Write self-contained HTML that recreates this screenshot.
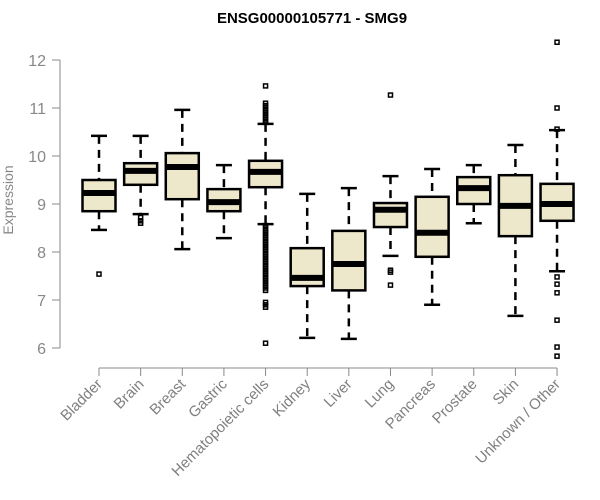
<!DOCTYPE html>
<html><head><meta charset="utf-8"><style>
body{margin:0;background:#fff}
svg{display:block;font-family:"Liberation Sans",Arial,sans-serif}
</style></head><body>
<svg id="chart" width="600" height="500" viewBox="0 0 600 500">
<text x="312" y="23" text-anchor="middle" font-size="15" font-weight="bold" fill="#000">ENSG00000105771 - SMG9</text>
<text transform="translate(13,200) rotate(-90)" text-anchor="middle" font-size="14" fill="#888">Expression</text>
<g id="axes"></g><g id="marks"></g>
</svg>
<script>
const categories=["Bladder","Brain","Breast","Gastric","Hematopoietic cells","Kidney","Liver","Lung","Pancreas","Prostate","Skin","Unknown / Other"];
const whiskerHigh=[10.42,10.42,10.96,9.81,10.67,9.21,9.33,9.58,9.73,9.81,10.23,10.54];
const q3=[9.5,9.85,10.06,9.31,9.9,8.08,8.44,9.02,9.15,9.56,9.6,9.42];
const medians=[9.23,9.69,9.77,9.04,9.67,7.46,7.75,8.88,8.4,9.33,8.96,9.0];
const q1=[8.85,9.4,9.1,8.85,9.35,7.29,7.2,8.52,7.9,9.0,8.33,8.65];
const whiskerLow=[8.46,8.79,8.06,8.29,8.58,6.21,6.19,7.92,6.9,8.6,6.67,7.6];
const outliers=[[7.54],[8.72,8.65,8.6],[],[],[11.46,11.1,11.05,11.0,10.95,10.9,10.85,10.8,10.75,10.7,8.55,8.5,8.45,8.4,8.35,8.3,8.25,8.2,8.15,8.1,8.05,8.0,7.95,7.9,7.85,7.8,7.75,7.7,7.65,7.6,7.55,7.5,7.45,7.4,7.35,7.3,7.25,7.2,6.95,6.9,6.85,6.1],[],[],[11.27,7.62,7.58,7.31],[],[],[],[12.37,11.0,10.56,7.48,7.33,7.15,6.58,6.02,5.83]];
const yTicks=[6,7,8,9,10,11,12];
const NS="http://www.w3.org/2000/svg";
const y=v=>60+(12-v)*48;
const x=i=>99+i*41.64;
function mk(tag,attrs,parent){const e=document.createElementNS(NS,tag);for(const k in attrs)e.setAttribute(k,attrs[k]);parent.appendChild(e);return e;}
const axes=document.getElementById('axes'),marks=document.getElementById('marks');
let a=mk('line',{x1:60,x2:60,y1:y(12),y2:y(6),stroke:'#888'},axes);


yTicks.forEach(t=>{
  const l=mk('line',{x1:52,x2:60,y1:y(t),y2:y(t),stroke:'#888'},axes);
  
  
  const tx=mk('text',{x:46,y:y(t)+6,'text-anchor':'end','font-size':16,fill:'#888'},axes);
  tx.textContent=t;
  
  
});
a=mk('line',{x1:x(0),x2:x(categories.length-1),y1:368,y2:368,stroke:'#888'},axes);


categories.forEach((c,i)=>{
  const cx=x(i);
  const l=mk('line',{x1:cx,x2:cx,y1:368,y2:376,stroke:'#888'},axes);
  
  
  const tx=mk('text',{transform:`translate(${cx+4},${385}) rotate(-45)`,'text-anchor':'end','font-size':15,fill:'#808080'},axes);
  tx.textContent=c;
  
  
  const g=mk('g',{},marks);
  
  
  const hw=16.5;
  mk('line',{x1:cx,x2:cx,y1:y(whiskerHigh[i]),y2:y(q3[i]),stroke:'#000','stroke-width':2.5,'stroke-dasharray':'8,6'},g);
  mk('line',{x1:cx,x2:cx,y1:y(q1[i]),y2:y(whiskerLow[i]),stroke:'#000','stroke-width':2.5,'stroke-dasharray':'8,6'},g);
  mk('line',{x1:cx-8,x2:cx+8,y1:y(whiskerHigh[i]),y2:y(whiskerHigh[i]),stroke:'#000','stroke-width':2.5},g);
  mk('line',{x1:cx-8,x2:cx+8,y1:y(whiskerLow[i]),y2:y(whiskerLow[i]),stroke:'#000','stroke-width':2.5},g);
  mk('rect',{x:cx-hw,y:y(q3[i]),width:2*hw,height:y(q1[i])-y(q3[i]),fill:'#ede7cc',stroke:'#000','stroke-width':2.5},g);
  mk('line',{x1:cx-hw,x2:cx+hw,y1:y(medians[i]),y2:y(medians[i]),stroke:'#000','stroke-width':6},g);
  outliers[i].forEach(v=>{
    const o=mk('rect',{x:cx-2,y:y(v)-2,width:4,height:4,fill:'none',stroke:'#000','stroke-width':1.5},g);
    
    
  });
});
</script>
</body></html>
